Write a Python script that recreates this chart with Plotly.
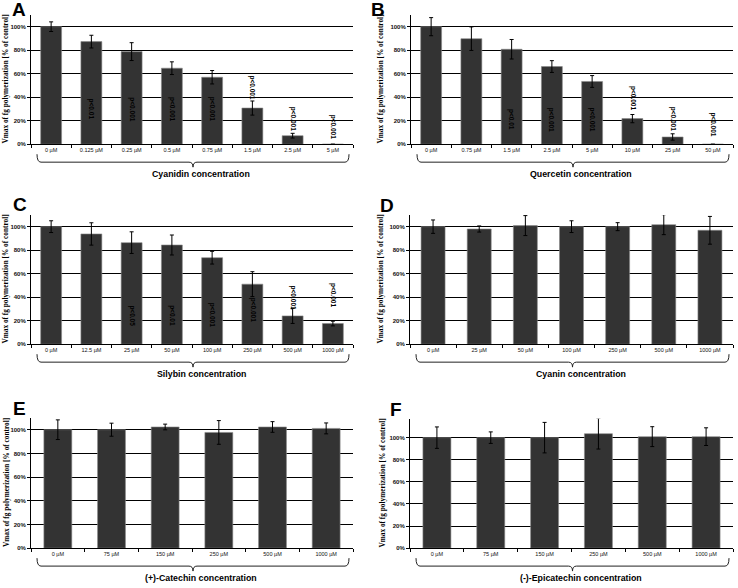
import plotly.graph_objects as go

W, H = 738, 588

# ---------------- data ----------------
cyanidin_cats = ["0 µM", "0.125 µM", "0.25 µM", "0.5 µM", "0.75 µM", "1.5 µM", "2.5 µM", "5 µM"]
cyanidin_vals = [100, 87.3, 78.8, 64.7, 57.0, 30.8, 7.3, 0]
cyanidin_err = [4.1, 5.4, 7.6, 5.4, 5.7, 6.0, 2.0, 0]
cyanidin_p = ["", "p<0.01", "p<0.001", "p<0.001", "p<0.001", "p<0.001", "p<0.001", "p<0.001"]
cyanidin_p_y = [None, 30, 30, 30, 30, 48, 22, 15]

quercetin_cats = ["0 µM", "0.75 µM", "1.5 µM", "2.5 µM", "5 µM", "10 µM", "25 µM", "50 µM"]
quercetin_vals = [100, 89.8, 80.8, 66.1, 53.4, 21.8, 6.2, 0]
quercetin_err = [7.7, 10.0, 8.3, 5.0, 5.0, 3.5, 2.7, 0]
quercetin_p = ["", "", "p<0.01", "p<0.001", "p<0.001", "p<0.001", "p<0.001", "p<0.001"]
quercetin_p_y = [None, None, 21, 21, 21, 39, 22, 17]

silybin_cats = ["0 µM", "12.5 µM", "25 µM", "50 µM", "100 µM", "250 µM", "500 µM", "1000 µM"]
silybin_vals = [100, 93.8, 86.4, 84.4, 73.6, 51.1, 24.1, 17.6]
silybin_err = [5.0, 9.5, 9.2, 8.5, 5.4, 10.6, 6.4, 2.0]
silybin_p = ["", "", "p<0.05", "p<0.01", "p<0.001", "p<0.001", "p<0.001", "p<0.001"]
silybin_p_y = [None, None, 24, 24, 25, 29, 40, 42]

cyanin_cats = ["0 µM", "25 µM", "50 µM", "100 µM", "250 µM", "500 µM", "1000 µM"]
cyanin_vals = [100, 98.0, 100.9, 100, 100, 101.7, 96.9]
cyanin_err = [5.7, 2.6, 8.5, 5.0, 3.4, 8.5, 11.8]

catechin_cats = ["0 µM", "75 µM", "150 µM", "250 µM", "500 µM", "1000 µM"]
catechin_vals = [100, 100, 102.3, 97.7, 102.3, 101.1]
catechin_err = [8.3, 5.5, 2.4, 10.0, 4.5, 4.6]

epicatechin_cats = ["0 µM", "75 µM", "150 µM", "250 µM", "500 µM", "1000 µM"]
epicatechin_vals = [100, 100, 100, 103.6, 100.9, 100.9]
epicatechin_err = [9.7, 5.2, 13.8, 13.9, 9.0, 8.0]

y_tick_vals = [0, 20, 40, 60, 80, 100]
y_tick_text = ["0%", "20%", "40%", "60%", "80%", "100%"]
y_title = "Vmax of fg polymerization [% of control]"

panels = [
    dict(letter="A", cats=cyanidin_cats, vals=cyanidin_vals, err=cyanidin_err,
         p=cyanidin_p, py=cyanidin_p_y, xtitle="Cyanidin concentration"),
    dict(letter="B", cats=quercetin_cats, vals=quercetin_vals, err=quercetin_err,
         p=quercetin_p, py=quercetin_p_y, xtitle="Quercetin concentration"),
    dict(letter="C", cats=silybin_cats, vals=silybin_vals, err=silybin_err,
         p=silybin_p, py=silybin_p_y, xtitle="Silybin concentration"),
    dict(letter="D", cats=cyanin_cats, vals=cyanin_vals, err=cyanin_err,
         p=None, py=None, xtitle="Cyanin concentration"),
    dict(letter="E", cats=catechin_cats, vals=catechin_vals, err=catechin_err,
         p=None, py=None, xtitle="(+)-Catechin concentration"),
    dict(letter="F", cats=epicatechin_cats, vals=epicatechin_vals, err=epicatechin_err,
         p=None, py=None, xtitle="(-)-Epicatechin concentration"),
]

# ---------------- layout geometry (pixels) ----------------
# (left, right, top, bottom, ymax, letter_x, letter_y, ytitle_x)
geom = [
    (31, 353, 15, 145, 110, 19, 10, 6),
    (411, 733, 15, 145, 110, 378, 10, 381),
    (31, 353, 216, 346, 110, 20, 206, 6),
    (410, 733, 216, 346, 110, 387, 207, 381),
    (31, 353, 420, 551, 110, 19, 411, 6),
    (410, 733, 421, 551, 117, 396, 412, 383),
]


def px(x):
    return x / W


def py(y):
    return 1 - y / H


fig = go.Figure()
annotations = []
shapes = []
layout = {}

for i, (p, g) in enumerate(zip(panels, geom)):
    n = "" if i == 0 else str(i + 1)
    left, right, top, bottom, ymax, lx, ly, ytx = g
    xa, ya = "x" + n, "y" + n
    fig.add_trace(go.Bar(
        x=p["cats"], y=p["vals"], xaxis=xa, yaxis=ya,
        marker=dict(color="#333333", line=dict(color="#8a8a8a", width=0.6)),
        error_y=dict(type="data", array=p["err"], visible=True,
                     color="black", thickness=1, width=2),
        showlegend=False, hoverinfo="x+y",
    ))
    layout["xaxis" + n] = dict(
        domain=[px(left), px(right)], anchor=ya, type="category",
        showline=True, linecolor="black", linewidth=1,
        ticks="outside", tickson="boundaries", ticklen=3, tickcolor="black",
        tickfont=dict(family="Liberation Sans", size=5.5, color="#111"),
        showgrid=False, zeroline=False, fixedrange=True,
    )
    layout["yaxis" + n] = dict(
        domain=[py(bottom), py(top)], anchor=xa, range=[0, ymax],
        tickvals=y_tick_vals, ticktext=y_tick_text,
        showline=True, linecolor="black", linewidth=1,
        ticks="outside", ticklen=3, tickcolor="black",
        tickfont=dict(family="Liberation Sans", size=6, color="#111", weight="bold"),
        showgrid=True, gridcolor="black", gridwidth=1, zeroline=False,
        fixedrange=True,
    )
    # panel letter
    annotations.append(dict(
        text=p["letter"], x=px(lx), y=py(ly), xref="paper", yref="paper",
        showarrow=False, xanchor="center", yanchor="middle",
        font=dict(family="Liberation Sans", size=19, color="black", weight="bold"),
    ))
    # y-axis title
    annotations.append(dict(
        text=y_title, x=px(ytx), y=py((top + bottom) / 2), xref="paper", yref="paper",
        showarrow=False, textangle=-90, xanchor="center", yanchor="middle",
        font=dict(family="Liberation Serif", size=7.3, color="black", weight="bold"),
    ))
    # x-axis title
    bx0, bx1 = left + 6, right - 4
    bxm = (bx0 + bx1) / 2
    annotations.append(dict(
        text=p["xtitle"], x=px(bxm + 8), y=py(bottom + 29.5), xref="paper", yref="paper",
        showarrow=False, xanchor="center", yanchor="middle",
        font=dict(family="Liberation Sans", size=8.8, color="black", weight="bold"),
    ))
    # curly brace under the category labels
    yt, yl, ytip, r = bottom + 10, bottom + 18, bottom + 23, 4
    pts = (
        f"M {px(bx0)},{py(yt)} Q {px(bx0)},{py(yl)} {px(bx0 + r)},{py(yl)} "
        f"L {px(bxm - r)},{py(yl)} Q {px(bxm)},{py(yl)} {px(bxm)},{py(ytip)} "
        f"Q {px(bxm)},{py(yl)} {px(bxm + r)},{py(yl)} "
        f"L {px(bx1 - r)},{py(yl)} Q {px(bx1)},{py(yl)} {px(bx1)},{py(yt)}"
    )
    shapes.append(dict(type="path", path=pts, xref="paper", yref="paper",
                       line=dict(color="#222", width=1)))
    # significance labels
    if p["p"]:
        for c, t, yy in zip(p["cats"], p["p"], p["py"]):
            if t and yy is not None:
                annotations.append(dict(
                    text=t, x=c, y=yy, xref=xa, yref=ya, showarrow=False,
                    textangle=90, xanchor="center", yanchor="middle",
                    font=dict(family="Liberation Sans", size=6.5, color="black", weight="bold"),
                ))

fig.update_layout(
    width=W, height=H, margin=dict(l=0, r=0, t=0, b=0),
    paper_bgcolor="white", plot_bgcolor="white",
    bargap=0.48, annotations=annotations, shapes=shapes,
    **layout,
)

fig.write_html("out.html", config={"displayModeBar": False},
               post_script="document.body.style.margin='0';")
